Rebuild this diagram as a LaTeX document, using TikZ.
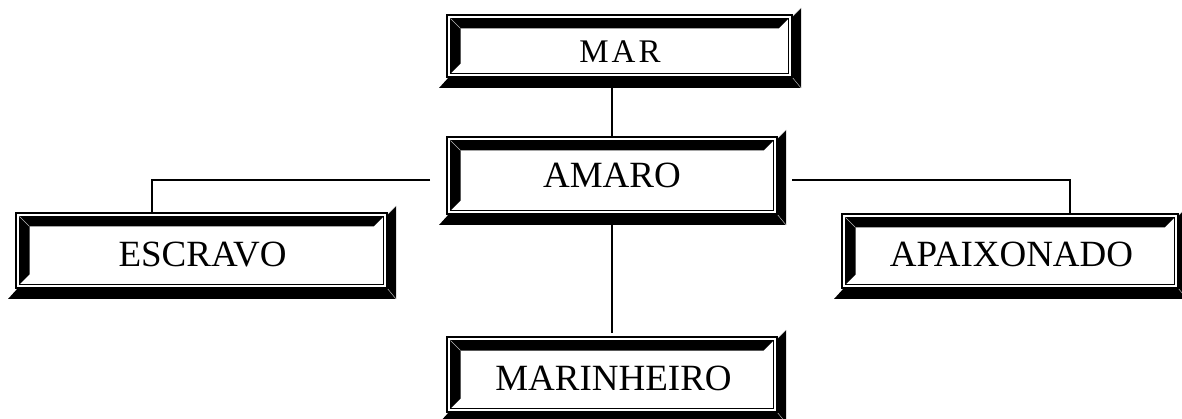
\documentclass[tikz,border=0pt]{standalone}
\usepackage{fontspec}
\setmainfont{Liberation Serif}
\usetikzlibrary{calc}
\tikzset{
  boxshape/.style={rectangle, draw=none, inner sep=0pt, outer sep=0pt},
  lbl/.style={anchor=base, inner sep=0pt, font=\fontsize{37}{42}\selectfont},
  conn/.style={line width=1.3pt},
  bevel/.style={gray!55, line width=0.5pt},
}
\newcommand\bevelframe[1]{%
  % outer shadow on bottom and right
  \fill[black] ($(#1.north east)+(0,2)$) -- ++(9,-9) -- ($(#1.south east)+(9,11)$)
     -- ($(#1.south west)+(-8,11)$) -- ($(#1.south west)+(2,0)$) -- (#1.south east) -- cycle;
  \draw[bevel] (#1.south east) -- ++(9,11);
  \draw[bevel] ($(#1.north east)+(0,2)$) -- ++(9,-9);
  % double thin frame
  \draw[line width=1.2pt] (#1.north west) rectangle (#1.south east);
  \draw[line width=1pt] ($(#1.north west)+(3.5,3.5)$) rectangle ($(#1.south east)+(-3.5,-3.5)$);
  % inner black band, top and left
  \fill[black] ($(#1.north west)+(3.5,3.5)$) -- ($(#1.north east)+(-3.5,3.5)$)
     -- ($(#1.north east)+(-13.5,13.5)$) -- ($(#1.north west)+(13.5,13.5)$)
     -- ($(#1.south west)+(13.5,-13.5)$) -- ($(#1.south west)+(3.5,-3.5)$) -- cycle;
  \draw[bevel] ($(#1.north west)+(3.5,3.5)$) -- ++(10,10);
}
\begin{document}
\begin{tikzpicture}[x=1pt, y=-1pt]
\useasboundingbox (0,0) rectangle (1182,419);
% boxes
\node[boxshape, minimum width=345pt, minimum height=62pt] (mar) at (619.5,46) {};
\node[boxshape, minimum width=330pt, minimum height=77pt] (amaro) at (612,175.5) {};
\node[boxshape, minimum width=371pt, minimum height=75pt] (escravo) at (201.5,250.5) {};
\node[boxshape, minimum width=336pt, minimum height=74pt] (apaix) at (1010,251) {};
\node[boxshape, minimum width=330pt, minimum height=75pt] (marin) at (612,374.5) {};
% connectors
\draw[conn] (amaro.north |- mar.south) -- (amaro.north);
\draw[conn] (amaro.south) -- ([yshift=4pt]marin.north);
\draw[conn] ($(amaro.west)+(-17,4.5)$) -| ($(escravo.north west)+(136,-1)$);
\draw[conn] ($(amaro.east)+(15,4.5)$) -| ($(apaix.north west)+(228,-1)$);
% frames
\bevelframe{mar}
\bevelframe{amaro}
\bevelframe{escravo}
\bevelframe{apaix}
\bevelframe{marin}
% labels
\node[lbl, font=\fontsize{33}{38}\selectfont] (mart) at (620,63) {M\kern3pt A\kern3pt R};
\node[lbl] (amarot) at (612,188) {AMARO};
\node[lbl] (escravot) at (202.5,267) {ESCRAVO};
\node[lbl] (apaixt) at (1011.5,267) {APAIXONADO};
\node[lbl] (marint) at (613.5,390) {MARINHEIRO};
\end{tikzpicture}
\end{document}
